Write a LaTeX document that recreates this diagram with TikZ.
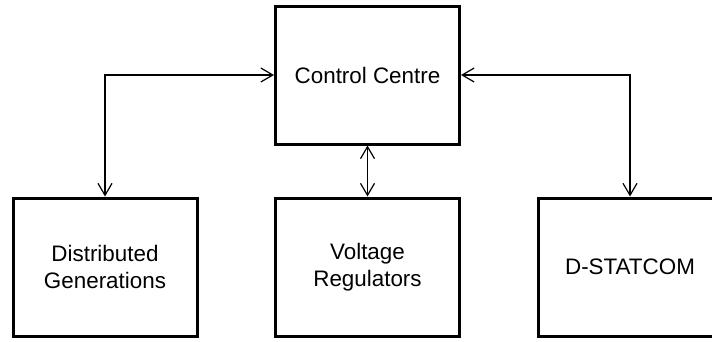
\documentclass[tikz,border=0pt]{standalone}
\usepackage{fontspec}
\setmainfont{Liberation Sans}
\usepackage{tikz}
\usetikzlibrary{arrows.meta}

\begin{document}
\begin{tikzpicture}[x=1pt,y=-1pt,>={Straight Barb[length=12pt,width=14pt]},
  blockbox/.style={draw,line width=3pt,minimum width=184pt,minimum height=138pt,inner sep=0pt,align=center,font=\fontsize{22.4}{27}\selectfont},
  link/.style={<->,line width=1.2pt}]
\useasboundingbox (0,0) rectangle (712,341);
\node[blockbox] (ctrl) at (367.5,75) {Control Centre};
\node[blockbox] (dg) at (105,267) {Distributed\\Generations};
\node[blockbox] (vr) at (367.5,267) {Voltage\\Regulators};
\node[blockbox] (dstat) at (630,267) {D-STATCOM};
\draw[link] (dg.north) |- (ctrl.west);
\draw[link] (dstat.north) |- (ctrl.east);
\draw[link] (ctrl.south) -- (vr.north);
\end{tikzpicture}
\end{document}
